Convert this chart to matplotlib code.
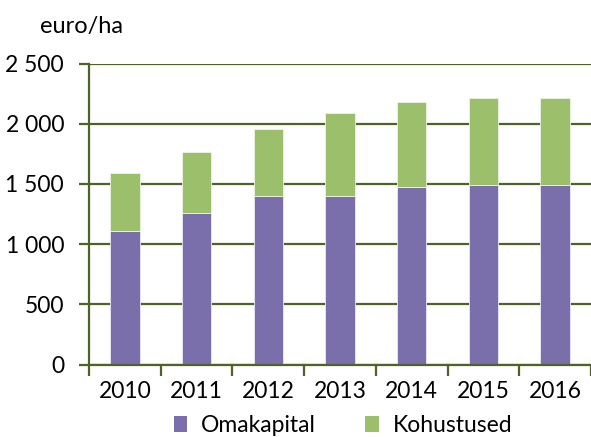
import matplotlib
matplotlib.use("Agg")
import matplotlib.pyplot as plt
from matplotlib.patches import Patch

years = ["2010", "2011", "2012", "2013", "2014", "2015", "2016"]
omakapital = [1105, 1262, 1401, 1403, 1472, 1488, 1490]
totals = [1591, 1762, 1953, 2091, 2177, 2212, 2214]
kohustused = [t - o for t, o in zip(totals, omakapital)]
yticks = [0, 500, 1000, 1500, 2000, 2500]
ytick_labels = ["0", "500", "1 000", "1 500", "2 000", "2 500"]

purple = "#7B6FAB"
green = "#9BBF6A"
grid_c = "#4F6228"

plt.rcParams["font.family"] = ["Lato", "DejaVu Sans"]

fig = plt.figure(figsize=(5.91, 4.37), dpi=100)
ax = fig.add_axes([89/591, 1 - 364.5/437, 1 - 89/591, (364.5 - 63.5)/437])

x = list(range(len(years)))
ax.bar(x, omakapital, width=0.41, color=purple, edgecolor="#ECEAF4", linewidth=0.6, zorder=3)
ax.bar(x, kohustused, bottom=omakapital, width=0.41, color=green, edgecolor="#EEF5E6", linewidth=0.6, zorder=3)

ax.set_xlim(-0.5, 6.5)
ax.set_ylim(0, 2500)
ax.set_yticks(yticks)
ax.set_yticklabels(ytick_labels)
ax.yaxis.grid(True, color=grid_c, linewidth=1.6, zorder=1)
ax.set_axisbelow(True)

ax.set_xticks(x)
ax.set_xticklabels(years)
ax.set_xticks([i - 0.5 for i in range(len(years) + 1)], minor=True)
ax.tick_params(axis="x", which="major", length=0, pad=12, labelsize=16.5)
ax.tick_params(axis="x", which="minor", length=8, width=1.6, color=grid_c, direction="out")
ax.tick_params(axis="y", length=7, width=1.6, color=grid_c, pad=11, labelsize=16.5)

for s in ["top", "right"]:
    ax.spines[s].set_visible(False)
for s in ["left", "bottom"]:
    ax.spines[s].set_color(grid_c)
    ax.spines[s].set_linewidth(1.6)
    ax.spines[s].set_zorder(4)

fig.text(40/591, 1 - 27/437, "euro/ha", fontsize=17, va="center", ha="left")

handles = [Patch(facecolor=purple, label="Omakapital"), Patch(facecolor=green, label="Kohustused")]
fig.legend(handles=handles, loc="center", bbox_to_anchor=(343/591, 1 - 425.5/437), ncol=2,
           frameon=False, fontsize=16.5, handlelength=0.6, handleheight=0.7,
           handletextpad=0.6, columnspacing=2.15)

fig.savefig("out.png", dpi=100)
